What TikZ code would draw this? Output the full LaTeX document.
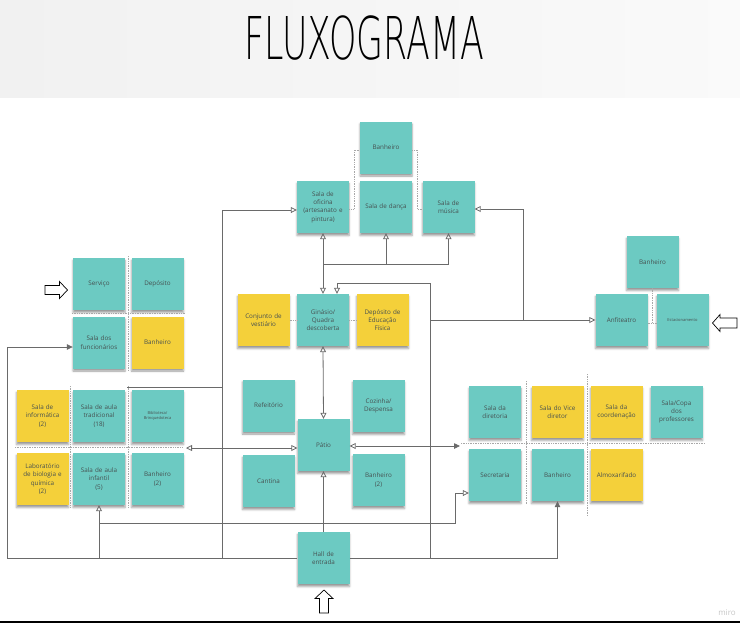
\documentclass[tikz,border=0pt]{standalone}
\usepackage{fontspec}
\usepackage{graphicx}
\setmainfont{Open Sans}
\newfontfamily\titlefont{DejaVu Sans}[UprightFont=* ExtraLight]
\usetikzlibrary{arrows.meta,shadows.blur,calc}

\definecolor{noteteal}{HTML}{6CCAC2}
\definecolor{noteyellow}{HTML}{F4D03A}
\definecolor{wirecol}{HTML}{6A6A6A}
\definecolor{notetext}{HTML}{465050}
\definecolor{sepcol}{HTML}{A8A8A8}
\definecolor{baseline}{HTML}{22C4D4}

\tikzset{
  hol/.tip={Triangle[open, length=6pt, width=6pt, line width=0.8pt]},
  sol/.tip={Triangle[length=6pt, width=5.5pt]},
  note/.style={minimum width=52pt, minimum height=52pt, inner sep=1pt,
    align=center, text width=50pt, text=notetext,
    font=\fontsize{6.3}{8.3}\selectfont,
    blur shadow={shadow xshift=0pt, shadow yshift=-2.5pt,
      shadow blur radius=2pt, shadow opacity=40}},
  tnote/.style={note, fill=noteteal},
  ynote/.style={note, fill=noteyellow},
  tiny/.style={font=\fontsize{4}{5.5}\selectfont},
  wire/.style={draw=wirecol, line width=0.8pt},
  sepline/.style={draw=sepcol, densely dotted, line width=0.7pt},
  bigarrow/.style={draw=black, fill=white, line width=0.7pt, line join=miter}
}

\begin{document}
\begin{tikzpicture}[x=1pt, y=-1pt]
\useasboundingbox (0,0) rectangle (740,625);

% header band and title
\fill[left color=gray!11, right color=gray!4] (0,0) rectangle (740,97);
\node[font=\titlefont\fontsize{59}{59}\selectfont, inner sep=0pt] (title) at (364.5,38.5)
  {\scalebox{0.59}[1]{FLUXOGRAMA}};

% bottom rule and logo text
\fill[baseline] (0,620.5) rectangle (740,622.5);
\node[text=gray!45, font=\fontsize{8}{8}\selectfont, inner sep=0pt] (logo) at (727,613) {miro};

% ---- service block (upper left)
\node[tnote] (servico)      at (99,284)    {Serviço};
\node[tnote] (deposito)     at (157.5,284) {Depósito};
\node[tnote] (funcionarios) at (99,342.5)  {Sala dos\\funcionários};
\node[ynote] (banheiroA)    at (157.5,342.5) {Banheiro};

% ---- classrooms (lower left)
\node[ynote] (informatica) at (42.5,416)  {Sala de\\informática\\(2)};
\node[tnote] (tradicional) at (99,416)    {Sala de aula\\tradicional\\(18)};
\node[tnote, tiny] (biblioteca) at (157.5,416) {Biblioteca/\\Brinquedoteca};
\node[ynote] (laboratorio) at (42.5,479)  {Laboratório\\de biologia e\\química\\(2)};
\node[tnote] (infantil)    at (99,479)    {Sala de aula\\infantil\\(5)};
\node[tnote] (banheiroB)   at (157.5,479) {Banheiro\\(2)};

% ---- workshops (top centre)
\node[tnote] (banheiroT) at (386,147.5) {Banheiro};
\node[tnote] (oficina)   at (323,207)   {Sala de\\oficina\\(artesanato e\\pintura)};
\node[tnote] (danca)     at (386,207)   {Sala de dança};
\node[tnote] (musica)    at (448.5,207) {Sala de\\música};

% ---- gym
\node[ynote] (vestiario) at (263.5,320) {Conjunto de\\vestiário};
\node[tnote] (ginasio)   at (323,320)   {Ginásio/\\Quadra\\descoberta};
\node[ynote] (depef)     at (382.5,320) {Depósito de\\Educação\\Física};

% ---- courtyard
\node[tnote] (refeitorio) at (268.5,405.5) {Refeitório};
\node[tnote] (cozinha)    at (378.5,406)   {Cozinha/\\Despensa};
\node[tnote] (patio)      at (323.5,445)   {Pátio};
\node[tnote] (cantina)    at (268.5,481)   {Cantina};
\node[tnote] (banheiroC)  at (378.5,480)   {Banheiro\\(2)};

% ---- auditorium
\node[tnote] (banheiroR)      at (652.5,262) {Banheiro};
\node[tnote] (anfiteatro)     at (621.5,320) {Anfiteatro};
\node[tnote, tiny] (estacionamento) at (682.5,320) {Estacionamento};

% ---- administration
\node[tnote] (diretoria)   at (495,412)   {Sala da\\diretoria};
\node[ynote] (vice)        at (557.5,412) {Sala do Vice\\diretor};
\node[ynote] (coordenacao) at (616.5,412) {Sala da\\coordenação};
\node[tnote] (copa)        at (676.5,412) {Sala/Copa\\dos\\professores};
\node[tnote] (secretaria)  at (495,475)   {Secretaria};
\node[tnote] (banheiroD)   at (557.5,475) {Banheiro};
\node[ynote] (almox)       at (616.5,475) {Almoxarifado};

% ---- entrance
\node[tnote] (hall) at (323.5,558) {Hall de\\entrada};

% ---- dotted separators inside the groups
\draw[sepline] (128,256) -- (128,371);
\draw[sepline] (72,313) -- (185,313);
\draw[sepline] (70,386) -- (70,508);
\draw[sepline] (128,386) -- (128,508);
\draw[sepline] (15,447.5) -- (183,447.5);
\draw[sepline] (oficina.east |- 0,209) -- (354,209) -- (354,150) -- (banheiroT.west |- 0,150);
\draw[sepline] (banheiroT.east |- 0,150) -- (417,150) -- (417,209) -- (musica.west |- 0,209);
\draw[sepline] (vestiario.east) -- (ginasio.west);
\draw[sepline] (ginasio.east) -- (depef.west);
\draw[sepline] (652,288) -- (652,323);
\draw[sepline] (anfiteatro.east |- 0,323) -- (estacionamento.west |- 0,323);
\draw[sepline] (461,443.5) -- (705,443.5);
\draw[sepline] (526,381) -- (526,505);
\draw[sepline] (587,374) -- (587,516);

% ---- entry arrows
\draw[bigarrow] (45,285.5) -- (59.5,285.5) -- (59.5,281.5) -- (67.5,290) -- (59.5,298.5)
  -- (59.5,294.5) -- (45,294.5) -- cycle;
\draw[bigarrow] (737,318) -- (720,318) -- (720,314.5) -- (712.5,323) -- (720,331.5)
  -- (720,328) -- (737,328) -- cycle;
\draw[bigarrow] (319.5,613) -- (319.5,598.5) -- (315,598.5) -- (324,590) -- (333,598.5)
  -- (328.5,598.5) -- (328.5,613) -- cycle;

% ---- junction points of the corridors
\coordinate (jtop)     at (323,264);
\coordinate (leftrail) at (7,347);
\coordinate (midbus)   at (99,523);
\coordinate (secbend)  at (455,523);
\coordinate (railA)    at (222,558);
\coordinate (railAb)   at (222,387);
\coordinate (groupTop) at (127,387);
\coordinate (railB)    at (430,558);
\coordinate (railBtop) at (430,283);
\coordinate (railC)    at (523,320);
\coordinate (westGroup) at (186,448);
\coordinate (eastGroup) at (460,446);

% ---- connectors
\draw[wire, -hol] (hall.north) -- (patio.south);
\draw[wire, hol-hol] (ginasio.south) -- (patio.north);
\draw[wire, hol-hol] (ginasio.north) -- (oficina.south);
\draw[wire, -hol] (jtop) -| (musica.south);
\draw[wire, -hol] (danca.south |- jtop) -- (danca.south);

\draw[wire, -sol] (hall.west) -| (leftrail) -- ([yshift=-4.5pt]funcionarios.west);
\draw[wire, -sol] (hall.east) -| (banheiroD.south);
\draw[wire, -hol] (infantil.south |- hall.west) -- (infantil.south);
\draw[wire, -hol] (midbus) -- (secbend) |- ([yshift=-18pt]secretaria.west);
\draw[wire, -hol] (railA) |- ([yshift=-3pt]oficina.west);
\draw[wire] (railAb) -- (groupTop);
\draw[wire, -hol] (railB) -- (railBtop) -| ([xshift=14pt]ginasio.north);
\draw[wire, -hol] (railB |- anfiteatro.west) -- (anfiteatro.west);
\draw[wire, -hol] (railC) |- ([yshift=-2pt]musica.east);
\draw[wire, hol-hol] (westGroup) -- (westGroup -| patio.west);
\draw[wire, hol-sol] (eastGroup -| patio.east) -- (eastGroup);
\end{tikzpicture}
\end{document}
